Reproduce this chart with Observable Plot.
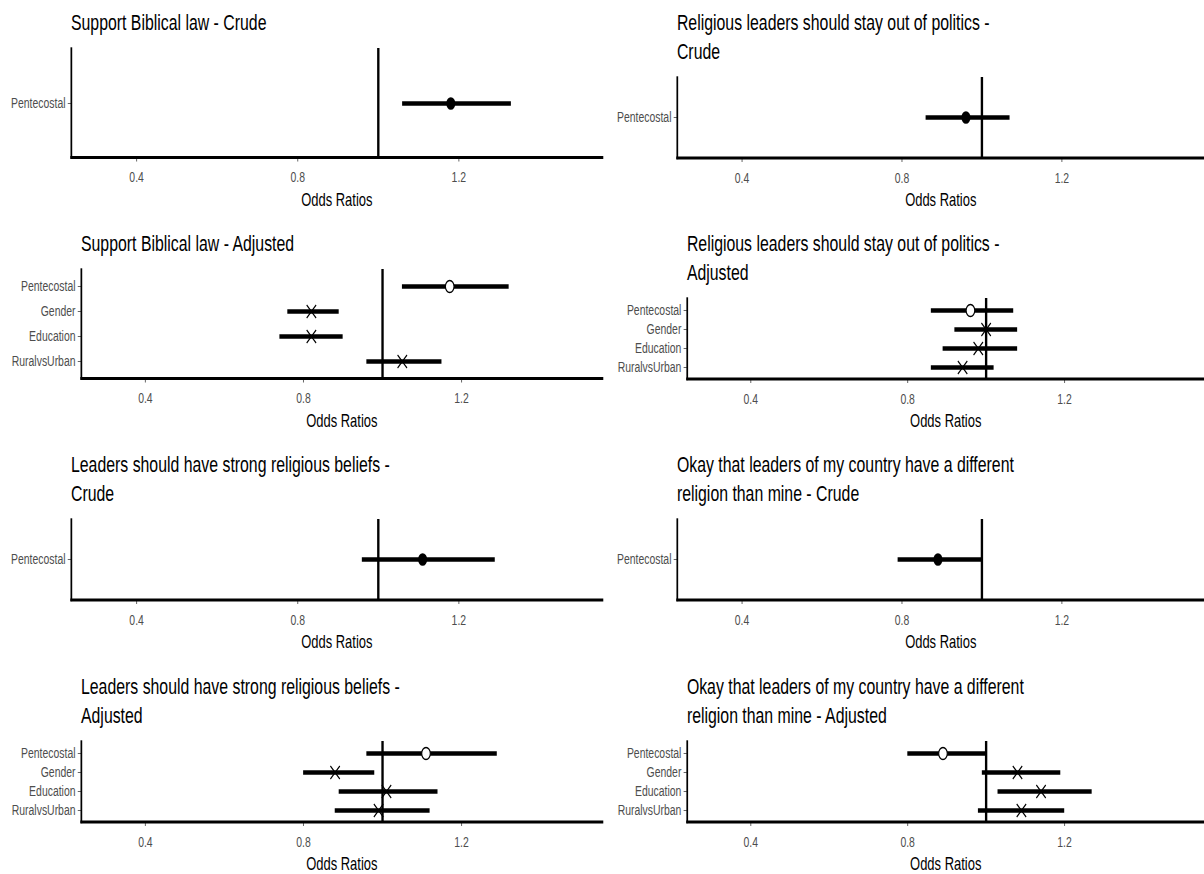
<!DOCTYPE html>
<html>
<head>
<meta charset="utf-8">
<script src="https://cdn.jsdelivr.net/npm/d3@7"></script>
<script src="https://cdn.jsdelivr.net/npm/@observablehq/plot@0.6"></script>
<style>
  html, body { margin: 0; padding: 0; background: #fff; overflow: hidden; }
  #stage {
    position: absolute; left: 0; top: 0; width: 1672px; height: 874px;
    transform: scaleX(0.72); transform-origin: 0 0;
    font-family: "Liberation Sans", Arial, sans-serif;
  }
  .title {
    position: absolute; font-size: 22px; line-height: 28.5px; color: #000; white-space: pre;
  }
  .plotwrap { position: absolute; }
</style>
</head>
<body>
<div id="stage"></div>
<script>
// ---- data ----
const xTicks = [0.4, 0.8, 1.2];
const xDomain = [0.238, 1.556];
const crudeTerms = ["Pentecostal"];
const adjTerms = ["Pentecostal", "Gender", "Education", "RuralvsUrban"];
const adjShapes = ["open", "cross", "cross", "cross"];
const axisTitle = "Odds Ratios";

const titles = [
  "Support Biblical law - Crude",
  "Religious leaders should stay out of politics -\nCrude",
  "Support Biblical law - Adjusted",
  "Religious leaders should stay out of politics -\nAdjusted",
  "Leaders should have strong religious beliefs -\nCrude",
  "Okay that leaders of my country have a different\nreligion than mine - Crude",
  "Leaders should have strong religious beliefs -\nAdjusted",
  "Okay that leaders of my country have a different\nreligion than mine - Adjusted"
];

// Support Biblical law
const bibCrudeOR = [1.18], bibCrudeLo = [1.06], bibCrudeHi = [1.33];
const bibAdjOR = [1.17, 0.82, 0.82, 1.05];
const bibAdjLo = [1.05, 0.76, 0.74, 0.96];
const bibAdjHi = [1.32, 0.89, 0.90, 1.15];

// Religious leaders should stay out of politics
const polCrudeOR = [0.96], polCrudeLo = [0.86], polCrudeHi = [1.07];
const polAdjOR = [0.96, 1.00, 0.98, 0.94];
const polAdjLo = [0.86, 0.92, 0.89, 0.86];
const polAdjHi = [1.07, 1.08, 1.08, 1.02];

// Leaders should have strong religious beliefs
const belCrudeOR = [1.11], belCrudeLo = [0.96], belCrudeHi = [1.29];
const belAdjOR = [1.11, 0.88, 1.01, 0.99];
const belAdjLo = [0.96, 0.80, 0.89, 0.88];
const belAdjHi = [1.29, 0.98, 1.14, 1.12];

// Okay that leaders have a different religion
const difCrudeOR = [0.89], difCrudeLo = [0.79], difCrudeHi = [1.00];
const difAdjOR = [0.89, 1.08, 1.14, 1.09];
const difAdjLo = [0.80, 0.99, 1.03, 0.98];
const difAdjHi = [1.00, 1.19, 1.27, 1.20];

// ---- layout (unsqueezed coordinates) ----
const colWidth = 836;
const rowBaselines = [31, 252, 473, 695];

const panels = [
  {title: titles[0], row: 0, col: 0, kind: "crude", or: bibCrudeOR, lo: bibCrudeLo, hi: bibCrudeHi},
  {title: titles[1], row: 0, col: 1, kind: "crude", or: polCrudeOR, lo: polCrudeLo, hi: polCrudeHi},
  {title: titles[2], row: 1, col: 0, kind: "adj", or: bibAdjOR, lo: bibAdjLo, hi: bibAdjHi},
  {title: titles[3], row: 1, col: 1, kind: "adj", or: polAdjOR, lo: polAdjLo, hi: polAdjHi},
  {title: titles[4], row: 2, col: 0, kind: "crude", or: belCrudeOR, lo: belCrudeLo, hi: belCrudeHi},
  {title: titles[5], row: 2, col: 1, kind: "crude", or: difCrudeOR, lo: difCrudeLo, hi: difCrudeHi},
  {title: titles[6], row: 3, col: 0, kind: "adj", or: belAdjOR, lo: belAdjLo, hi: belAdjHi},
  {title: titles[7], row: 3, col: 1, kind: "adj", or: difAdjOR, lo: difAdjLo, hi: difAdjHi}
];

const stage = document.getElementById("stage");
const fontFamily = "'Liberation Sans', Arial, sans-serif";

for (const p of panels) {
  const terms = p.kind === "crude" ? crudeTerms : adjTerms;
  const rows = terms.map((t, i) => ({
    term: t, or: p.or[i], lo: p.lo[i], hi: p.hi[i],
    shape: p.kind === "crude" ? "solid" : adjShapes[i]
  }));
  const nLines = p.title.split("\n").length;
  const T = rowBaselines[p.row];
  const panelTop = T + 17 + 28.5 * (nLines - 1);
  const panelBottom = T + 126;
  const marginTop = 6, marginBottom = 60;
  const marginLeft = p.kind === "crude" ? (p.col === 0 ? 98.6 : 104.2) : (p.col === 0 ? 112.5 : 118);
  const left = p.col * colWidth;

  const t = document.createElement("div");
  t.className = "title";
  t.textContent = p.title;
  t.style.left = (left + marginLeft) + "px";
  t.style.top = (T - 21.9) + "px";
  stage.appendChild(t);

  const chart = Plot.plot({
    width: colWidth,
    height: marginTop + (panelBottom - panelTop) + marginBottom,
    marginTop, marginBottom, marginLeft, marginRight: 0,
    style: {fontFamily, fontSize: "14.5px", background: "transparent", overflow: "visible"},
    x: {domain: xDomain},
    y: {type: "point", domain: terms, padding: 0.6},
    marks: [
      Plot.axisX({ticks: xTicks, tickSize: 4.5, tickPadding: 10, fontSize: 14.5, color: "#4d4d4d", label: null}),
      Plot.axisY({tickSize: 4.5, tickPadding: 3.6, fontSize: 14.5, color: "#4d4d4d", label: null}),
      Plot.frame({anchor: "left", stroke: "#000", strokeWidth: 2.4}),
      Plot.frame({anchor: "bottom", stroke: "#000", strokeWidth: 2.8}),
      Plot.ruleY(rows, {y: "term", x1: "lo", x2: "hi", stroke: "#000", strokeWidth: 4.3}),
      Plot.ruleX([1], {stroke: "#000", strokeWidth: 3.3}),
      Plot.dot(rows.filter(d => d.shape === "solid"), {x: "or", y: "term", r: 6.3, fill: "#000", stroke: "none"}),
      Plot.dot(rows.filter(d => d.shape === "open"), {x: "or", y: "term", r: 6, fill: "#fff", stroke: "#000", strokeWidth: 1.6}),
      Plot.dot(rows.filter(d => d.shape === "cross"), {x: "or", y: "term", r: 6, symbol: "times", stroke: "#000", strokeWidth: 1.6}),
      Plot.text([axisTitle], {text: d => d, frameAnchor: "bottom", dy: 48, lineAnchor: "bottom", fontSize: 18, fill: "#000"})
    ]
  });
  const w = document.createElement("div");
  w.className = "plotwrap";
  w.style.left = left + "px";
  w.style.top = (panelTop - marginTop) + "px";
  w.appendChild(chart);
  stage.appendChild(w);
}
</script>
</body>
</html>
